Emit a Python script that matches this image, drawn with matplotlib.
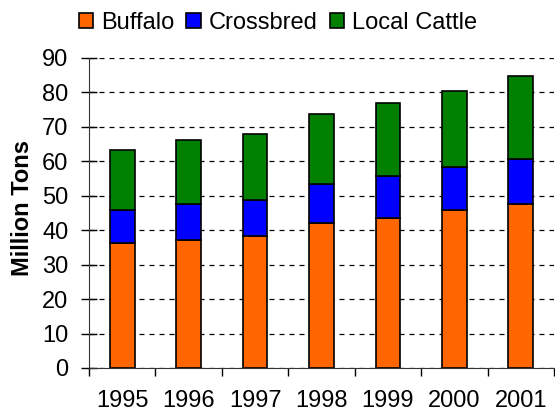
import numpy as np
import matplotlib.pyplot as plt

plt.rcParams['font.family'] = ['Liberation Sans', 'DejaVu Sans']

# Milk production by source (million tons)
years = ['1995', '1996', '1997', '1998', '1999', '2000', '2001']
buffalo = [36.2, 37.2, 38.4, 42.0, 43.5, 45.8, 47.7]
crossbred = [9.6, 10.5, 10.5, 11.4, 12.3, 12.7, 13.1]
local_cattle = [17.4, 18.5, 18.9, 20.2, 21.2, 22.0, 24.0]

fs = 17
fig = plt.figure(figsize=(5.55, 4.16), dpi=100)
ax = fig.add_axes([89 / 555, 48 / 416, 465 / 555, 310 / 416])

x = np.arange(len(years))
w = 0.37
b1 = np.array(buffalo)
b2 = b1 + np.array(crossbred)
ax.bar(x, buffalo, w, color='#ff6600', edgecolor='black', linewidth=1.2, label='Buffalo', zorder=3)
ax.bar(x, crossbred, w, bottom=b1, color='#0000ff', edgecolor='black', linewidth=1.2, label='Crossbred', zorder=3)
ax.bar(x, local_cattle, w, bottom=b2, color='#008000', edgecolor='black', linewidth=1.2, label='Local Cattle', zorder=3)

ax.set_xlim(-0.5, len(years) - 0.5)
ax.set_ylim(0, 90)
ax.set_yticks(range(0, 91, 10))
ax.set_xticks(np.arange(-0.5, len(years), 1.0))
ax.set_xticklabels([])
ax.set_xticks(x, minor=True)
ax.set_xticklabels(years, minor=True, fontsize=fs)
ax.tick_params(axis='x', which='minor', length=0, pad=16)
ax.tick_params(axis='x', which='major', length=6, width=1, direction='out')
ax.tick_params(axis='y', length=11.5, width=1, direction='inout', labelsize=fs, pad=9)

ax.grid(axis='y', color='black', linestyle=(0, (4, 4)), linewidth=0.9, zorder=0)
ax.spines['top'].set_visible(False)
ax.spines['right'].set_visible(False)
ax.spines['left'].set_color('#333333')
ax.spines['bottom'].set_color('#333333')

ax.set_ylabel('Million Tons', fontsize=fs, fontweight='bold')
ax.yaxis.set_label_coords(34 / 555, 0.5, transform=fig.transFigure)

ax.legend(loc='center left', bbox_to_anchor=(79 / 555, 1 - 23 / 416),
          bbox_transform=fig.transFigure, ncol=3, frameon=False,
          fontsize=fs, handlelength=0.6, handleheight=0.6, handletextpad=0.35,
          columnspacing=0.5, borderaxespad=0, borderpad=0)

fig.savefig('out.png', dpi=100)
